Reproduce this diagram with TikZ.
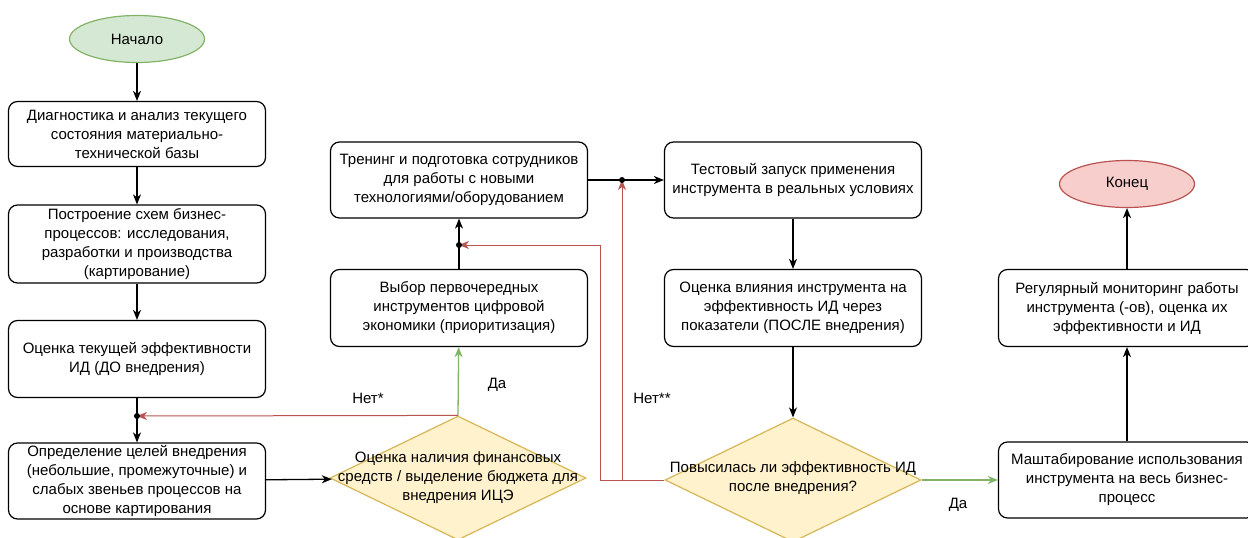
\documentclass[tikz,border=0pt]{standalone}
\usepackage{fontspec}
\setmainfont{Liberation Sans}
\usepackage{tikz}
\usetikzlibrary{arrows.meta,shapes.geometric}
\definecolor{okfill}{HTML}{D5E8D4}
\definecolor{okline}{HTML}{82B366}
\definecolor{stopfill}{HTML}{F8CECC}
\definecolor{stopline}{HTML}{B85450}
\definecolor{askfill}{HTML}{FFF2CC}
\definecolor{askline}{HTML}{D6B656}
\newcommand{\flowfont}{\fontsize{15}{19}\selectfont}
\tikzset{
  box/.style={draw=black, line width=1.2pt, rounded corners=9pt, fill=white, align=center,
    font=\flowfont, inner sep=0pt, minimum width=257pt},
  term/.style={ellipse, line width=1.2pt, align=center, font=\flowfont, inner sep=0pt,
    minimum width=135pt, minimum height=47pt},
  ask/.style={diamond, draw=askline, fill=askfill, line width=1.2pt, inner sep=0pt,
    minimum width=256pt, minimum height=124pt},
  flow/.style={draw=black, line width=1.3pt, -{Stealth[length=10pt,width=8pt,inset=3pt]}},
  yes/.style={draw=okline, line width=1.3pt, -{Stealth[length=10pt,width=8pt,inset=3pt]}},
  no/.style={draw=stopline, line width=1pt, -{Stealth[length=10pt,width=8pt,inset=3pt]}},
  dot/.style={circle, fill=black, inner sep=0pt, minimum size=6pt},
  lab/.style={font=\flowfont, align=center},
}

\begin{document}
\begin{tikzpicture}[x=1pt,y=-1pt]
  \useasboundingbox (0,0) rectangle (1248,538);
  % left column
  \node[term, draw=okline, fill=okfill] (start) at (137,39) {Начало};
  \node[box, minimum height=65pt] (diag) at (137,134)
    {Диагностика и анализ текущего\\состояния материально-\\технической базы};
  \node[box, minimum height=78pt] (scheme) at (137,244)
    {Построение схем бизнес-\\процессов: исследования,\\разработки и производства\\(картирование)};
  \node[box, minimum height=77pt] (before) at (137,359)
    {Оценка текущей эффективности\\ИД (ДО внедрения)};
  \node[box, minimum height=76pt] (goals) at (137,481)
    {Определение целей внедрения\\(небольшие, промежуточные) и\\слабых звеньев процессов на\\основе картирования};
  % middle column
  \node[ask] (budget) at (458,478) {};
  \node[lab] at (budget) {Оценка наличия финансовых\\средств / выделение бюджета для\\внедрения ИЦЭ};
  \node[box, minimum height=77pt] (choice) at (459,308)
    {Выбор первочередных\\инструментов цифровой\\экономики (приоритизация)};
  \node[box, minimum height=76pt] (train) at (459,180)
    {Тренинг и подготовка сотрудников\\для работы с новыми\\технологиями/оборудованием};
  \node[box, minimum height=76pt] (test) at (793,180)
    {Тестовый запуск применения\\инструмента в реальных условиях};
  \node[box, minimum height=77pt] (after) at (793,308)
    {Оценка влияния инструмента на\\эффективность ИД через\\показатели (ПОСЛЕ внедрения)};
  \node[ask] (better) at (793,480) {};
  \node[lab] at ([yshift=2pt]better) {Повысилась ли эффективность ИД\\после внедрения?};
  % right column
  \node[box, minimum height=76pt] (scale) at (1127,480)
    {Маштабирование использования\\инструмента на весь бизнес-\\процесс};
  \node[box, minimum height=77pt] (monitor) at (1127,308)
    {Регулярный мониторинг работы\\инструмента (-ов), оценка их\\эффективности и ИД};
  \node[term, draw=stopline, fill=stopfill] (end) at (1127,184) {Конец};

  \coordinate (j1) at (137,416);
  \coordinate (j2) at (459,245);
  \coordinate (j3) at (622,180);
  \coordinate (r1) at (600,480);
  \coordinate (r2) at (622,480);

  \draw[flow] (start) -- (diag);
  \draw[flow] (diag) -- (scheme);
  \draw[flow] (scheme) -- (before);
  \draw[flow] (before) -- (goals);
  \draw[flow] (goals) -- (budget);
  \draw[yes] (budget.north) -- (choice);
  \draw[no] (budget.north) -- (j1);
  \draw[flow] (choice) -- (train);
  \draw[flow] (train.east) -- (test.west);
  \draw[flow] (test) -- (after);
  \draw[flow] (after) -- (better);
  \draw[no] (better.west) -- (r1) |- (j2);
  \draw[no] (r2) -- (j3);
  \draw[yes] (better.east) -- (scale);
  \draw[flow] (scale) -- (monitor);
  \draw[flow] (monitor) -- (end);
  \foreach \J in {j1,j2,j3}
    \node[dot] at (\J) {};

  \node[lab] at (368,398) {Нет*};
  \node[lab] at (497,385) {Да};
  \node[lab] at (652,398) {Нет**};
  \node[lab] at (958,505) {Да};
\end{tikzpicture}
\end{document}
